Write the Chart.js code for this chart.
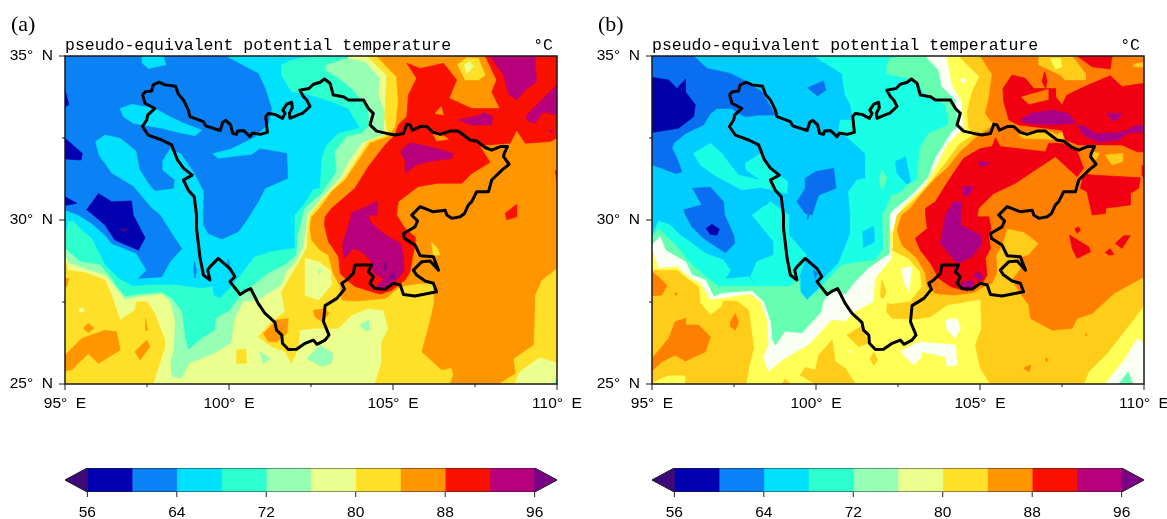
<!DOCTYPE html>
<html>
<head>
<meta charset="utf-8">
<title>pseudo-equivalent potential temperature</title>
<script src="https://cdn.jsdelivr.net/npm/chart.js@4"></script>
<style>
  html, body { margin: 0; padding: 0; background: #fff; overflow: hidden; width: 1167px; height: 519px; }
  canvas { position: absolute; }
</style>
</head>
<body>
<canvas id="mapA" width="620" height="420" style="left:0;top:0"></canvas>
<canvas id="mapB" width="620" height="420" style="left:587px;top:0"></canvas>
<canvas id="barA" width="590" height="64" style="left:0;top:455px"></canvas>
<canvas id="barB" width="590" height="64" style="left:587px;top:455px"></canvas>
<script>
const titleText = 'pseudo-equivalent potential temperature';
const unitText = '°C';
const panelLetters = ['(a)', '(b)'];
const lonTicks = [95, 100, 105, 110];
const latTicks = [25, 30, 35];
const barEdges = [56, 60, 64, 68, 72, 76, 80, 84, 88, 92, 96];
const barTicks = [56, 64, 72, 80, 88, 96];

// band colours, lowest to highest
const coloursA = ['#3d0a78', '#0000b0', '#0a82f5', '#00e1ff', '#2dffcf', '#96ffb3', '#ebff8f', '#ffe028', '#ff9600', '#f91000', '#b8007c', '#7d0089'];
const coloursB = ['#3d0a78', '#0000ab', '#0a6ef0', '#00ccff', '#19ffe6', '#66ffb2', '#f9fff2', '#ffff55', '#ffcc19', '#ff8000', '#f00012', '#aa0088'];

// province outline, lon,lat
const boundary = [97.36,33.83,97.46,33.91,97.64,33.93,97.69,34.12,97.87,34.2,98.05,34.12,98.37,34.08,98.46,33.83,98.61,33.66,98.76,33.35,98.81,33.15,99.22,33,99.29,32.87,99.73,32.73,99.81,32.98,99.9,33.04,100.05,32.9,100.11,32.64,100.23,32.61,100.26,32.71,100.44,32.73,100.64,32.54,100.71,32.65,100.95,32.61,101.17,32.67,101.12,33.15,101.2,33.25,101.4,33.22,101.63,33.1,101.71,33.25,101.64,33.35,101.76,33.53,101.91,33.59,101.93,33.42,101.84,33.25,101.86,33.1,102.14,33.22,102.24,33.25,102.47,33.46,102.37,33.66,102.27,33.76,102.16,33.96,102.44,34.01,102.57,34.14,102.78,34.2,102.91,34.3,103.08,34.17,103.18,33.81,103.49,33.76,103.64,33.66,104.1,33.66,104.25,33.4,104.4,33.25,104.3,32.9,104.5,32.71,104.81,32.64,105.06,32.59,105.32,32.64,105.42,32.92,105.52,32.9,105.59,32.74,105.83,32.85,106.03,32.85,106.23,32.67,106.44,32.61,106.74,32.71,106.99,32.71,107.15,32.59,107.35,32.44,107.55,32.41,107.81,32.21,108.01,32.13,108.27,32.24,108.49,32.24,108.39,32.03,108.37,31.93,108.54,31.7,108.32,31.52,108.01,31.22,107.91,30.86,107.55,30.86,107.4,30.56,107.3,30.46,107.18,30.2,107.05,30.1,106.79,30.05,106.64,30.15,106.59,30.3,106.23,30.25,105.83,30.41,105.57,30.15,105.75,29.97,105.67,29.79,105.32,29.59,105.35,29.44,105.67,29.24,105.83,28.91,106.23,28.88,106.39,28.47,106.13,28.75,105.88,28.73,105.62,28.47,105.72,28.32,105.98,28.14,106.23,28.07,106.33,27.81,105.67,27.68,105.32,27.73,105.22,28.02,105.01,28.07,104.76,27.89,104.45,27.91,104.3,28.07,104.4,28.27,104.25,28.42,104.35,28.63,103.84,28.63,103.79,28.37,103.59,28.17,103.44,28.07,103.52,27.89,103.29,27.61,102.93,27.39,102.88,26.9,103.05,26.49,102.93,26.34,102.68,26.21,102.57,26.34,102.32,26.24,102.06,26.06,101.81,26.05,101.63,26.24,101.61,26.49,101.45,26.64,101.4,26.88,101.1,27.15,100.89,27.46,100.66,27.91,100.49,27.83,100.34,27.73,100.03,28.12,100.18,28.27,100.03,28.52,99.67,28.83,99.42,28.57,99.35,28.47,99.42,28.17,99.22,28.32,99.12,28.83,99.01,29.74,99.01,30.15,98.94,30.71,98.76,30.91,98.61,31.22,98.88,31.37,98.61,31.58,98.43,31.83,98.25,32.29,97.95,32.44,97.54,32.59,97.36,32.85,97.49,33.05,97.52,33.2,97.74,33.4,97.44,33.56,97.36,33.83];

// panel (a) contour regions, painted in order: [band, [lon,lat,...]]
const coldA = [
  [3, [95,25,110,25,110,35,95,35]],
  [2, [95,35,99.88,35,100.38,34.73,100.89,34.47,101.1,34.01,101.3,33.4,101.2,32.95,100.79,32.54,100.08,32.19,99.47,32.03,99.67,31.86,100.18,31.93,100.69,31.98,100.94,32.17,101.76,32.03,101.79,31.27,101.1,30.97,100.89,30.56,100.54,30,100.28,29.64,99.78,29.42,99.37,29.59,99.22,29.85,99.22,30.15,99.24,30.86,98.96,31.42,98.54,32.03,98.2,32.19,97.95,31.78,97.95,31.53,98.33,31.22,98.3,30.97,97.74,30.9,97.59,31.07,97.29,31.53,97.18,32.11,96.68,32.51,96.22,32.61,95.91,32.39,96.02,31.98,96.42,31.42,97.08,31.02,97.64,30.36,97.9,30.15,98.25,29.59,98.56,29.13,98.2,28.73,97.95,28.27,97.24,28.22,97.49,28.47,97.18,28.98,96.42,29.29,96.22,29.54,95.81,29.9,95.41,30.15,95,30.31]],
  [3, [97.34,35,98,35,98.08,34.73,97.54,34.62,97.36,34.78]],
  [3, [96.68,33.4,97.03,33.53,97.74,33.4,98.2,33.15,98.61,32.95,99.17,32.74,98.96,32.57,98.45,32.67,97.95,32.8,97.36,32.9,97.08,32.95,96.78,33.15]],
  [1, [95,33.96,95.12,33.51,95,33.46]],
  [1, [95,32.49,95.53,32.03,95.49,31.83,95,31.86]],
  [1, [95,30.71,95.36,30.51,95,30.44]],
  [1, [95.66,30.31,96.02,30.81,96.42,30.56,97.03,30.58,97.08,30.15,97.44,29.46,97.24,29.08,96.52,29.39,96.22,29.85,95.86,30.15]],
  [0, [96.68,29.74,96.98,29.72,96.78,29.64]],
  [2, [98.94,28.73,99.01,28.47,98.96,28.22,98.92,28.47]],
  [2, [99.96,28.83,100.06,28.42,99.98,28.47]]
];
const midA = [
  [4, [95,29.44,95.1,29.95,95.25,29.97,95.51,29.69,95.81,29.44,96.02,29.03,96.22,28.63,96.63,28.22,97.08,27.97,97.64,28.02,98.35,28.02,99.17,27.91,99.49,27.97,99.52,27.71,99.72,27.61,100.08,27.97,100.28,28.22,100.79,28.88,101.3,29.03,101.99,29.13,102.01,30.15,102.32,30.51,102.57,30.92,102.78,30.97,102.83,31.88,102.98,32.29,103.34,32.64,104,32.8,103.64,33.4,103.13,33.61,102.32,33.86,101.91,33.91,101.6,34.42,101.6,34.73,101.91,34.88,102.62,35,110,35,110,25,95,25]],
  [5, [95,29.13,95.46,28.73,96.07,28.63,96.37,28.27,96.57,27.97,96.83,27.66,97.13,27.71,97.95,27.79,98.25,27.61,98.56,27.2,98.66,26.39,98.76,26.04,99.17,26.39,99.57,26.64,99.62,27,100.03,27.25,100.33,27.66,100.69,27.97,101.2,28.37,101.71,28.63,102.06,28.93,102.11,29.54,102.26,30.15,102.32,30.36,102.83,30.81,103.29,31.47,103.23,32.08,103.59,32.54,104.05,32.64,104.3,32.9,104.2,33.56,104,33.71,103.74,34.01,103.29,34.37,102.93,34.57,102.98,34.73,103.64,34.93,103.64,35,110,35,110,25,95,25]],
  [6, [95,28.93,95.1,28.68,95.71,28.47,96.22,28.32,96.52,27.97,96.83,27.56,97.13,27.64,97.95,27.74,98.2,27.51,98.35,26.9,98.3,25.98,98.2,25.68,98.25,25.22,98.56,25.17,98.81,25.63,99.57,25.93,100.08,26.24,100.18,27,100.44,27.51,100.89,27.56,101.6,28.02,101.76,28.42,102.06,28.73,102.26,29.13,102.42,30.15,102.78,30.61,103.39,31.27,103.69,31.83,104.05,32.34,104.71,32.59,104.76,33.3,104.56,33.81,104.61,34.32,104.15,34.83,103.64,34.93,103.64,35,110,35,110,25,95,25]],
  [7, [95,28.83,95.1,28.47,95.61,28.4,96.22,28.17,96.42,27.71,96.68,26.95,97.13,27.25,97.18,27.51,97.49,27.51,97.74,27.15,98.03,26.39,98.03,26.09,97.69,25,95,25]],
  [7, [104.2,35,104.81,34.42,104.76,33.3,104.76,33.05,104.86,32.61,104.25,32.39,103.84,31.78,103.54,31.32,102.98,30.76,102.73,30.46,102.47,30.15,102.42,29.85,102.37,29.13,101.96,28.42,101.6,27.81,101.71,27.2,101.3,26.9,100.89,26.44,101.3,26.14,101.71,25.98,101.91,25.63,102.11,26.09,102.16,26.64,102.57,26.7,103.34,26.7,103.74,27.1,104.25,27.3,104.71,27.25,104.86,26.7,104.66,26.29,104.66,25.68,104.45,25,110,25,110,35]],
  [6, [102.32,28.83,102.73,28.73,103.08,28.47,103.13,28.02,102.73,27.56,102.32,27.71]],
  [5, [102.73,28.49,102.81,28.47,102.76,28.35]],
  [7, [100.23,26.04,100.51,26.07,100.54,25.63,100.23,25.63]],
  [5, [100.94,25.98,101.25,25.78,101.05,25.61]],
  [5, [102.37,25.78,102.78,26.17,103.18,25.93,103.13,25.63,102.83,25.53]],
  [5, [104,26.8,104.25,26.95,104.3,26.64,104.15,26.62]],
  [8, [95.71,26.85,95.89,26.7,95.71,26.57,95.56,26.7]],
  [8, [95,25.88,95.51,26.39,96.22,26.64,96.57,26.59,96.68,26.04,96.02,25.63,95.71,25.93,95.2,25.43,95,25.4]],
  [8, [97.13,25.98,97.49,26.34,97.59,26.14,97.29,25.73]],
  [8, [97.46,27,97.52,26.64,97.46,26.64]],
  [8, [95,28.22,95.12,28.22,95.05,27.97,95,27.97]],
  [6, [95.41,27.25,95.51,27.34,95.61,27.23,95.46,27.18]],
  [8, [101.05,26.54,101.45,26.95,101.81,27,101.76,26.54,101.45,26.29,101.2,26.29]]
];
const warmA = [
  [8, [104.5,35,105.11,34.37,105.16,33.61,105.08,32.85,104.86,32.54,104.3,32.34,103.89,31.73,103.54,31.22,103.13,30.86,102.73,30.31,102.52,30.1,102.47,29.74,102.52,29.39,102.78,29.08,103.03,28.93,103.18,28.37,103.39,27.97,103.44,27.56,103.84,27.53,104.76,27.61,105.22,27.97,105.83,28.07,106.23,28.07,106.26,27.51,106.13,26.9,105.88,25.98,106.49,25.43,106.79,25.5,106.84,25.27,106.74,25,108.21,25,108.72,25.32,108.67,25.78,109.28,26.19,109.33,27.71,109.53,28.17,110,28.53,110,35]],
  [8, [102.57,27.25,102.93,27.3,103.05,27.15,102.83,26.9,102.62,27.05]],
  [6, [108.72,25,108.87,25.37,109.47,25.8,110,25.63,110,25]],
  [5, [109.85,25,110,25.17,110,25]],
  [7, [106.18,29.32,106.36,29.13,106.43,28.93,106.23,28.93]],
  [7, [106.97,34.73,107.25,34.95,107.6,34.93,107.81,34.42,107.6,34.27,107.2,34.27]],
  [6, [107.18,34.73,107.35,34.83,107.45,34.67,107.25,34.47]],
  [9, [105.42,34.78,105.83,34.62,106.54,34.78,106.94,34.27,106.71,33.71,107.4,33.4,108.26,33.4,108.01,33.91,108.16,34.27,107.81,35,110,35,110,32.5,109.79,32.39,109.03,32.34,108.77,32.74,108.57,32.34,107.86,32.29,107.65,32.24,107.96,31.76,107.4,31.42,107.1,31.12,106.38,31.12,105.77,31.02,105.16,30.56,105.11,30.15,105.37,29.74,105.67,29.49,105.67,29.24,105.59,28.83,105.52,28.42,105.37,28.17,104.96,27.86,104.61,27.74,103.84,27.97,103.59,28.17,103.39,28.37,103.34,28.88,103.03,29.34,102.91,29.85,102.93,30.1,103.13,30.36,103.84,30.97,104.25,31.63,104.76,32.29,105.06,32.59,105.16,32.9,105.42,33.15,105.47,33.81,105.72,34.32]],
  [8, [106.28,33.25,106.47,33.46,106.54,33.2]],
  [8, [106.18,32.71,106.59,32.54,106.69,32.46,106.33,32.41]],
  [9, [108.42,30.2,108.77,30.48,108.77,30.1,108.62,30.05,108.47,30]],
  [9, [109.94,31.5,110,31.5,110,31.2]]
];
const hotA = [
  [10, [107.96,35,109.33,35,109.33,34.78,109.38,34.22,109.03,33.96,108.77,33.66,108.52,33.86,108.37,34.42]],
  [10, [109.08,33.2,109.69,33.81,110,34.12,110,33.2,109.58,33.3,109.33,32.95,109.08,33.05]],
  [10, [106.99,33.05,107.5,33.15,107.81,33.27,108.03,33.15,108.01,32.9,107.4,32.9]],
  [10, [105.22,32.08,105.52,32.36,106.08,32.24,106.84,32.03,106.79,31.88,106.08,31.78,105.72,31.68,105.37,31.42,105.37,31.83]],
  [10, [109.74,32.74,109.89,32.71,109.82,32.67]],
  [10, [103.69,30.2,104.1,30.36,104.54,30.58,104.51,30.15,104.25,30.15,104.3,29.95,104.76,29.54,105.22,29.29,105.32,28.93,105.32,28.42,105.06,28.12,104.71,27.86,104.5,27.97,104.71,28.22,104.4,28.37,104.35,28.73,104.05,29.03,103.79,29.13,103.52,28.83,103.46,29.24,103.74,30.15]],
  [11, [104.98,28.42,105.08,28.22,104.88,28.22]],
  [11, [104.74,28.68,104.79,28.68,104.79,28.47,104.72,28.47]]
];

// panel (b) contour regions
const coldB = [
  [3, [95,25,110,25,110,35,95,35]],
  [2, [95,35,96.27,35,96.68,34.62,97.39,34.47,97.84,34.24,98.35,33.91,98.76,33.2,98.25,33.2,97.84,33.15,97.64,33.25,97.44,33.4,96.98,33.4,96.78,33.25,96.57,32.9,96.02,32.64,95.66,32.34,95.61,32.19,95.76,31.88,95.91,31.47,95.71,31.42,95.3,31.58,95,31.68]],
  [2, [99.74,34.03,100.23,34.24,100.3,33.96,100.05,33.78]],
  [2, [99.67,31.27,99.98,31.47,100.54,31.58,100.61,30.97,100.08,30.76,99.88,30.15,99.67,30.2,99.42,30.56,99.67,30.97]],
  [2, [95.97,30.31,96.52,30.46,96.24,30.97,96.78,31,97.18,30.56,97.21,30.15,97.49,29.54,97.52,29.29,97.24,29,96.57,29.44,96.22,29.79,96.02,30.15]],
  [2, [98.45,30.46,98.56,30.51,98.64,30.2,98.47,30.17]],
  [1, [95,34.35,95.51,34.27,95.76,34.01,96.02,34.29,96.02,33.91,96.32,33.51,96.27,33.15,95.81,32.8,95,32.67]],
  [1, [96.65,29.74,96.83,29.87,97.05,29.72,96.98,29.54,96.78,29.56]],
  [2, [99.74,30.15,99.8,30.15,99.74,30]],
  [2, [99.93,28.47,100.03,28.37,99.98,28.22]]
];
const midB = [
  [4, [99.93,35,100.79,34.47,100.89,33.81,101.05,33.51,101.15,33.05,100.74,33.05,100.69,32.69,100.94,32.54,101.5,32.03,101.52,31.27,101.25,31.22,100.99,30.86,101.05,30.15,101.05,29.59,100.69,28.68,100.18,28.17,100.08,27.91,99.72,27.56,99.52,27.76,99.52,28.22,99.17,27.97,98.2,27.97,97.95,28.27,97.24,28.2,97.39,28.47,97.18,28.78,96.63,28.98,96.22,29.29,95.86,29.54,95.56,29.85,95.2,29.97,95.05,29.64,95,29.54,95,25,110,25,110,35]],
  [4, [98.2,27.97,98,28.27,98.2,28.73,98.71,28.93,98.71,29.34,98.05,30.15,98.61,30.56,99.17,30.15,99.17,29.54,99.72,28.93,99.47,28.22,99.52,27.97]],
  [4, [96.27,32.03,96.78,32.34,97.13,32.03,97.39,31.68,97.64,31.37,98.3,31.22,97.87,31.53,97.84,31.73,98.33,32.03,98.61,31.53,98.88,31.35,99.14,31.17,99.11,30.81,98.76,30.91,98.3,30.99,97.74,30.92,96.98,31.32,96.47,31.68]],
  [3, [101.42,29.64,101.76,29.81,101.79,29.34,101.45,29.16]],
  [3, [102.42,31.78,102.73,31.93,102.88,31.17,102.78,31.08,102.47,31.42]],
  [5, [102.01,31.53,102.16,31.27,102.03,30.92,101.93,31.17]],
  [5, [95,29.44,95.2,29.74,95.41,29.54,95.81,29.13,96.07,28.78,96.63,28.27,97.03,27.97,98.2,27.97,99.17,27.97,99.47,28.17,99.52,27.81,99.72,27.56,100.08,27.86,100.38,28.22,100.79,28.63,101.81,28.78,102.06,29.13,102.03,30.15,102.32,30.76,102.62,30.86,102.78,31.07,103.08,31.22,103.18,32.24,103.44,32.64,104.05,32.9,103.95,33.51,103.34,33.81,103.13,34.17,102.83,34.32,102.32,34.42,102.16,34.47,102.16,34.73,102.26,34.93,102.62,35,110,35,110,25,95,25]],
  [6, [95,29.18,95.05,29.29,95.25,29.49,95.41,29.08,96.02,28.73,96.22,28.32,96.63,28.17,96.88,27.66,97.13,27.76,98.05,27.83,98.4,27.51,98.61,26.9,98.66,26.34,98.76,26.16,99.06,26.59,99.57,26.54,100.18,27.2,100.23,27.51,100.49,27.86,100.89,27.71,101.2,28.12,101.6,28.52,102.26,28.98,102.26,30.15,102.32,30.26,102.68,30.56,103.03,30.86,103.44,31.32,103.64,31.88,104.15,32.69,104.35,32.85,104.3,33.2,104.25,33.66,103.84,34.07,103.74,34.57,103.39,34.93,103.39,35,110,35,110,25,95,25]],
  [7, [95,29.08,95.2,28.52,95.76,28.58,96.17,28.22,96.47,28.07,96.78,27.56,97.13,27.61,98,27.74,98.3,27.51,98.51,26.9,98.54,26.19,98.37,25.83,98.54,25.37,99.06,25.78,99.78,26.19,100.49,26.95,100.89,26.9,101.2,27.2,101.76,27.51,101.81,28.22,102.32,28.83,102.26,29.54,102.62,30.36,102.93,30.66,103.34,31.07,103.69,31.68,104,32.29,104.5,32.8,104.45,33.61,104.15,34.12,104,34.93,104,35,110,35,110,25,95,25]],
  [6, [104.4,34.27,104.5,34.34,104.58,34.24,104.49,34.17]],
  [6, [100.99,26.01,101.07,26.01,101.05,25.95]],
  [6, [102.62,28.52,102.93,28.58,102.83,27.81,102.68,28.12]],
  [6, [103.95,26.95,104.3,27,104.4,26.7,104.25,26.39,104,26.64]],
  [6, [102.57,25.98,103.13,26.29,104.25,26.19,104.3,25.58,104,25.53,103.95,25.83,103.23,25.98,103.18,25.78,102.98,25.58]],
  [6, [108.82,25,109.43,25.78,109.79,26.39,110,26.24,110,25]],
  [5, [109.23,25,109.52,25.37,109.66,25]],
  [8, [95,28.47,95.76,28.47,96.12,28.17,96.42,27.97,96.47,27.46,96.78,27.1,97.13,27.36,97.18,27.53,97.59,27.53,97.95,27.25,98.1,26.09,97.95,25.48,97.87,25,96.02,25,96.02,25.27,95.51,25.27,95.15,25.12,95,25]],
  [8, [100.08,25.88,100.49,26.34,100.59,25.68,100.89,25.48,101.2,25,99.98,25,99.52,25.27,99.67,25.5,99.98,25.43]],
  [8, [98.96,25,99.06,25.15,99.22,25]],
  [8, [100.94,26.49,101.45,26.8,101.5,26.49,101.6,26.24,101.3,26.14]],
  [8, [101.65,25.78,101.76,25.98,101.88,25.73,101.76,25.56]],
  [8, [101.96,27.66,102.01,28.17,102.14,27.81,102.06,27.61]],
  [9, [95,28.42,95.2,28.27,95.46,28,95.3,27.71,95,27.69]],
  [9, [95,25.78,95.51,26.39,95.71,26.9,96.02,27,96.02,26.8,96.42,26.8,96.78,26.44,96.63,25.98,96.02,25.7,95.71,25.88,95.3,25.68,95,25.4]],
  [9, [97.39,26.9,97.54,27.15,97.64,26.9,97.54,26.64,97.39,26.75]],
  [9, [95.71,27.79,95.79,27.74,95.71,27.71]]
];
const warmB = [
  [8, [104.35,35,104.98,34.37,104.76,33.91,104.61,33.3,104.66,32.8,104.81,32.61,104.35,32.29,103.95,31.73,103.59,31.27,103.18,30.81,102.88,30.51,102.47,30.15,102.37,29.64,102.37,29.24,102.32,29.08,102.83,28.83,103.18,28.42,103.23,27.97,102.88,27.51,102.32,27.43,102.17,27.46,102.15,27.2,102.32,27,103.08,26.98,103.49,27.05,104,27.41,105.02,27.59,105.05,26.7,104.86,26.19,105.01,25.48,105.32,25,108.16,25,108.31,25.37,108.87,25.93,109.43,26.64,110,27.39,110,35]],
  [9, [105.01,35,105.37,34.44,105.27,33.71,105.16,33.25,105.42,32.9,104.91,32.54,104.4,32.08,104,31.58,103.64,31.27,103.23,30.81,102.88,30.36,102.62,30.15,102.47,29.69,102.62,29.24,103.08,28.83,103.34,28.37,103.39,27.97,103.64,27.76,104.2,27.71,104.81,27.79,105.11,27.97,105.37,28.07,105.52,28.42,105.49,28.93,105.67,29.24,105.83,29.74,106.33,29.64,106.79,29.29,106.49,28.93,106.13,28.83,106.33,28.63,105.98,28.17,106.23,27.76,106.49,27.41,106.54,27,107.2,26.64,107.81,26.7,107.96,27,108.42,27.15,109.08,27.76,110,28.27,110,35]],
  [8, [106.18,32.59,106.38,32.67,106.59,32.67,107.1,32.71,107.35,32.59,107.6,32.74,107.65,32.44,106.33,32.49]],
  [8, [106.79,35,107.81,35,108.21,34.47,108.21,34.27,107.6,34.27,107.45,34.42,106.79,34.73]],
  [7, [107.15,34.93,107.45,34.93,107.5,34.67,107.3,34.6]],
  [8, [109.69,34.75,110,34.81,110,34.66,109.69,34.67]],
  [8, [108.82,31.98,109.33,32.03,109.35,31.78,109.03,31.68]],
  [8, [108.42,32.08,108.64,32.03,108.52,31.83,108.37,31.88]],
  [9, [106.33,25.48,106.54,25.58,106.51,25.37]],
  [9, [107.01,25.8,107.07,25.73,107.01,25.68]],
  [9, [108.23,26.54,108.27,26.49,108.23,26.46]]
];
const hotB = [
  [10, [105.7,34.01,105.98,34.42,106.38,34.32,106.64,34.01,107.1,34.01,106.23,33.76,106.49,33.51,107.1,33.66,107.1,34.01,107.3,34.01,107.3,33.76,107.5,33.51,107.65,33.81,108.31,34.12,108.97,34.4,109.33,34.07,110,34.17,110,32.07,109.79,32.08,109.33,32.29,108.52,32.29,108.01,32.29,107.6,32.44,107.5,32.74,106.18,32.9,105.88,33.05,105.72,33.61]],
  [10, [104.05,31.22,104.5,31.88,105.01,32.18,105.37,32.24,105.47,32.51,105.62,32.24,106.99,32.08,107.1,32.34,107.5,32.34,107.96,32.1,108.16,31.58,107.96,31.32,107.3,31.93,106.69,31.53,106.08,31.12,105.42,30.81,104.96,30.36,104.91,30.1,105.27,30.1,105.34,29.74,105.27,29.49,105.32,29.13,105.16,28.83,105.22,28.32,105.06,28.07,104.61,27.83,104.1,27.97,103.74,28.22,103.49,28.68,103.18,29.08,103.03,29.44,103.39,29.74,103.34,30.15,103.34,30.36,103.64,30.56]],
  [10, [108.16,31.42,108.42,31.37,109.89,31.29,109.84,30.97,109.58,30.81,109.58,30.46,108.82,30.36,108.82,30.2,108.42,30.15,108.26,30.86,108.06,30.97]],
  [10, [109.94,31.68,110,31.6,110,31.25,109.94,31.37]],
  [10, [106.89,34.22,106.97,34.52,107.05,34.22,107,34.01]],
  [10, [107.96,35,109.03,35,108.97,34.6,108.42,34.67]],
  [10, [107.73,29.54,108.32,29.18,108.37,29.03,107.96,28.83,107.81,29.13]],
  [10, [109.13,29.29,109.38,29.52,109.58,29.52,109.33,29.13]],
  [10, [108.82,29.01,108.97,29.13,109.08,28.95,108.92,28.93]],
  [10, [107.89,29.74,108.01,29.79,108.06,29.69,107.96,29.59]],
  [11, [103.95,30.15,104.2,30.56,104.45,30.56,104.4,30.1,104.4,29.85,105.01,29.54,105.01,29.24,104.76,28.88,104.3,28.68,104.05,28.98,103.79,29.29]],
  [11, [106.23,33.05,106.54,33.25,107.2,33.35,107.7,33.25,107.91,32.95,107.1,32.9,106.38,32.95]],
  [11, [107.96,32.9,108.21,32.85,108.52,32.64,109.23,32.67,109.48,32.74,109.79,32.9,110,32.85,110,32.67,109.53,32.67,109.23,32.44,108.62,32.37,108.16,32.59]],
  [11, [108.87,33.25,109.33,33.25,109.18,33.05,109.03,33.02]],
  [11, [104.98,31.8,105.32,31.73,105.01,31.63]],
  [11, [104.47,31.02,104.79,31.02,104.71,30.81,104.5,30.71]],
  [11, [104.4,28.07,104.76,28.17,104.81,27.97,104.61,27.89]],
  [11, [104.79,28.27,104.96,28.45,105.11,28.22,104.98,28.17]]
];

function toPoints(flat) {
  const pts = [];
  for (let i = 0; i < flat.length; i += 2) pts.push({ x: flat[i], y: flat[i + 1] });
  pts.push({ x: flat[0], y: flat[1] });
  return pts;
}

function regionDataset(flat, colour) {
  return {
    data: toPoints(flat), showLine: true, pointRadius: 0, tension: 0,
    fill: 'shape', backgroundColor: colour, borderColor: colour, borderWidth: 0.6
  };
}

function tickMark(ctx, x1, y1, x2, y2) {
  ctx.beginPath();
  ctx.moveTo(x1, y1);
  ctx.lineTo(x2, y2);
  ctx.stroke();
}

// frame, two-length ticks and the header texts of a map panel
const mapDecor = {
  id: 'mapDecor',
  afterDraw(chart, args, opts) {
    const { ctx, chartArea: a, scales } = chart;
    ctx.save();
    ctx.strokeStyle = '#1a1a1a';
    ctx.lineWidth = 1.5;
    ctx.strokeRect(a.left, a.top, a.right - a.left, a.bottom - a.top);
    ctx.lineWidth = 1;
    scales.x.ticks.forEach(t => {
      const x = scales.x.getPixelForValue(t.value);
      tickMark(ctx, x, a.bottom, x, a.bottom + (lonTicks.includes(t.value) ? 6 : 3));
    });
    scales.y.ticks.forEach(t => {
      const y = scales.y.getPixelForValue(t.value);
      tickMark(ctx, a.left, y, a.left - (latTicks.includes(t.value) ? 6 : 3), y);
    });
    ctx.fillStyle = '#000';
    ctx.textBaseline = 'alphabetic';
    ctx.font = '16.5px "Liberation Mono"';
    ctx.textAlign = 'left';
    ctx.fillText(titleText, a.left, 50);
    ctx.textAlign = 'right';
    ctx.fillText(unitText, a.right - 4, 50);
    ctx.font = '22px "Liberation Serif"';
    ctx.textAlign = 'left';
    ctx.fillText(opts.letter, 11, 31);
    ctx.restore();
  }
};

// tick marks of a colour bar
const barDecor = {
  id: 'barDecor',
  afterDraw(chart) {
    const { ctx, chartArea: a, scales } = chart;
    ctx.save();
    ctx.strokeStyle = '#222';
    ctx.lineWidth = 1;
    barTicks.forEach(v => {
      const x = scales.x.getPixelForValue(v);
      tickMark(ctx, x, a.bottom, x, a.bottom + 5);
    });
    ctx.restore();
  }
};

function makeMap(id, letter, colours, groups) {
  const regions = groups.flat().map(r => regionDataset(r[1], colours[r[0]]));
  const outline = {
    data: toPoints(boundary), showLine: true, pointRadius: 0, tension: 0, fill: false,
    borderColor: '#000', borderWidth: 3, borderJoinStyle: 'round'
  };
  const datasets = regions.concat([outline]);
  datasets.forEach((d, i) => { d.order = datasets.length - i; });
  new Chart(document.getElementById(id), {
    type: 'scatter',
    data: { datasets },
    plugins: [mapDecor],
    options: {
      responsive: false,
      animation: false,
      layout: { padding: { left: 0, top: 56, right: 63, bottom: 0 } },
      plugins: { legend: { display: false }, tooltip: { enabled: false }, mapDecor: { letter } },
      scales: {
        x: {
          type: 'linear', min: 95, max: 110,
          grid: { display: false, drawTicks: false }, border: { display: false },
          afterFit: s => { s.height = 36; },
          ticks: {
            stepSize: 2.5, autoSkip: false, minRotation: 0, maxRotation: 0, padding: 10, color: '#000',
            font: { family: 'Liberation Sans', size: 15.5 },
            callback: v => lonTicks.includes(v) ? v + '°  E' : ''
          }
        },
        y: {
          type: 'linear', min: 25, max: 35,
          grid: { display: false, drawTicks: false }, border: { display: false },
          afterFit: s => { s.width = 65; },
          ticks: {
            stepSize: 2.5, autoSkip: false, padding: 12, color: '#000',
            font: { family: 'Liberation Sans', size: 15.5 },
            callback: v => latTicks.includes(v) ? v + '°  N' : ''
          }
        }
      }
    }
  });
}

function makeBar(id) {
  const lowEnd = barEdges[0] - 2;
  const highEnd = barEdges[barEdges.length - 1] + 2;
  const datasets = [];
  // outline goes on top of the boxes
  datasets.push({
    data: toPoints([lowEnd, 0.5, barEdges[0], 1, barEdges[10], 1, highEnd, 0.5, barEdges[10], 0, barEdges[0], 0]),
    showLine: true, pointRadius: 0, fill: false, borderColor: '#222', borderWidth: 1
  });
  datasets.push(regionDataset([lowEnd, 0.5, barEdges[0], 1, barEdges[0], 0], coloursA[0]));
  datasets.push(regionDataset([highEnd, 0.5, barEdges[10], 1, barEdges[10], 0], coloursA[11]));
  for (let i = 0; i < barEdges.length - 1; i++) {
    datasets.push(regionDataset([barEdges[i], 0, barEdges[i + 1], 0, barEdges[i + 1], 1, barEdges[i], 1], coloursA[i + 1]));
  }
  new Chart(document.getElementById(id), {
    type: 'scatter',
    data: { datasets },
    plugins: [barDecor],
    options: {
      responsive: false,
      animation: false,
      layout: { padding: { left: 65, top: 13, right: 33, bottom: 0 } },
      plugins: { legend: { display: false }, tooltip: { enabled: false } },
      scales: {
        x: {
          type: 'linear', min: lowEnd, max: highEnd,
          grid: { display: false, drawTicks: false }, border: { display: false },
          afterFit: s => { s.height = 27; },
          afterBuildTicks: s => { s.ticks = barTicks.map(v => ({ value: v })); },
          ticks: {
            autoSkip: false, minRotation: 0, maxRotation: 0, padding: 11, color: '#000',
            font: { family: 'Liberation Sans', size: 15.5 }
          }
        },
        y: { type: 'linear', min: 0, max: 1, display: false }
      }
    }
  });
}

makeMap('mapA', panelLetters[0], coloursA, [coldA, midA, warmA, hotA]);
makeMap('mapB', panelLetters[1], coloursB, [coldB, midB, warmB, hotB]);
makeBar('barA');
makeBar('barB');
</script>
</body>
</html>
